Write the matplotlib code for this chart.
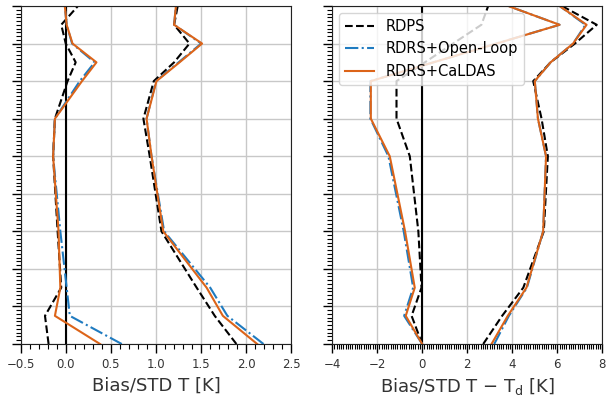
import matplotlib
matplotlib.use("Agg")
import matplotlib.pyplot as plt
from matplotlib.ticker import MultipleLocator

# pressure levels [hPa]
levels = [1000, 925, 850, 700, 500, 400, 300, 250, 200, 150, 100]

# temperature bias / std [K]
t_bias_rdps = [-0.19, -0.23, -0.05, -0.09, -0.14, -0.12, 0.02, 0.11, 0.0, -0.05, 0.135]
t_bias_ol = [0.62, 0.045, 0.01, -0.06, -0.14, -0.12, 0.155, 0.32, 0.07, 0.01, -0.01]
t_bias_cal = [0.38, -0.12, -0.06, -0.08, -0.14, -0.12, 0.18, 0.34, 0.075, 0.01, -0.01]
t_std_rdps = [1.89, 1.65, 1.45, 1.06, 0.93, 0.86, 0.975, 1.2, 1.37, 1.2, 1.24]
t_std_ol = [2.19, 1.79, 1.6, 1.09, 0.95, 0.895, 1.0, 1.25, 1.5, 1.2, 1.22]
t_std_cal = [2.12, 1.74, 1.56, 1.08, 0.95, 0.895, 1.005, 1.26, 1.51, 1.2, 1.22]

# dewpoint depression bias / std [K]
td_bias_rdps = [0.0, -0.47, -0.03, -0.17, -0.55, -1.14, -1.14, 0.12, 1.37, 2.63, 2.93]
td_bias_ol = [0.0, -0.8, -0.4, -0.82, -1.5, -2.3, -2.3, 0.5, 3.3, 6.1, 3.82]
td_bias_cal = [0.0, -0.73, -0.33, -0.76, -1.44, -2.28, -2.28, 0.5, 3.3, 6.1, 3.82]
td_std_rdps = [2.71, 3.55, 4.49, 5.4, 5.58, 5.3, 4.93, 5.7, 6.78, 7.75, 6.2]
td_std_ol = [3.2, 3.85, 4.65, 5.37, 5.5, 5.14, 5.0, 5.7, 6.7, 7.25, 6.1]
td_std_cal = [3.08, 3.8, 4.63, 5.37, 5.5, 5.14, 5.0, 5.7, 6.7, 7.3, 6.1]

c_ol = '#1f7bc0'
c_cal = '#dc6419'

fig = plt.figure(figsize=(6.06, 4.0), dpi=100)
ax1 = fig.add_axes([0.034, 0.14, 0.447, 0.845])
ax2 = fig.add_axes([0.548, 0.14, 0.446, 0.845])


def draw(ax, bias, std):
    ax.axvline(0, color='k', lw=1.5, zorder=1)
    ax.plot(bias[0], levels, 'k--', lw=1.5, label='RDPS')
    ax.plot(bias[1], levels, '-.', color=c_ol, lw=1.5, label='RDRS+Open-Loop')
    ax.plot(bias[2], levels, '-', color=c_cal, lw=1.5, label='RDRS+CaLDAS')
    ax.plot(std[0], levels, 'k--', lw=1.5)
    ax.plot(std[1], levels, '-.', color=c_ol, lw=1.5)
    ax.plot(std[2], levels, '-', color=c_cal, lw=1.5)
    ax.set_ylim(1000, 100)
    ax.yaxis.set_major_locator(MultipleLocator(100))
    ax.yaxis.set_minor_locator(MultipleLocator(10))
    ax.set_yticklabels([])
    ax.xaxis.set_minor_locator(MultipleLocator(0.1))
    ax.grid(True, which='major', color='#c8c8c8', lw=1)
    ax.set_axisbelow(True)
    ax.tick_params(which='major', length=6.5, width=1, labelsize=8.5,
                   labelcolor='#333333')
    ax.tick_params(which='minor', length=3.5, width=0.8)
    for s in ax.spines.values():
        s.set_color('#222222')


draw(ax1, [t_bias_rdps, t_bias_ol, t_bias_cal], [t_std_rdps, t_std_ol, t_std_cal])
ax1.set_xlim(-0.5, 2.5)
ax1.xaxis.set_major_locator(MultipleLocator(0.5))
ax1.set_xlabel('Bias/STD T [K]', fontsize=13, color='#333333')

draw(ax2, [td_bias_rdps, td_bias_ol, td_bias_cal], [td_std_rdps, td_std_ol, td_std_cal])
ax2.set_xlim(-4, 8)
ax2.xaxis.set_major_locator(MultipleLocator(2))
ax2.set_xlabel(r'Bias/STD T $-$ T$_\mathrm{d}$ [K]', fontsize=13, color='#333333')
ax2.legend(loc='upper left', fontsize=10.5)

fig.savefig('out.png', dpi=100)
